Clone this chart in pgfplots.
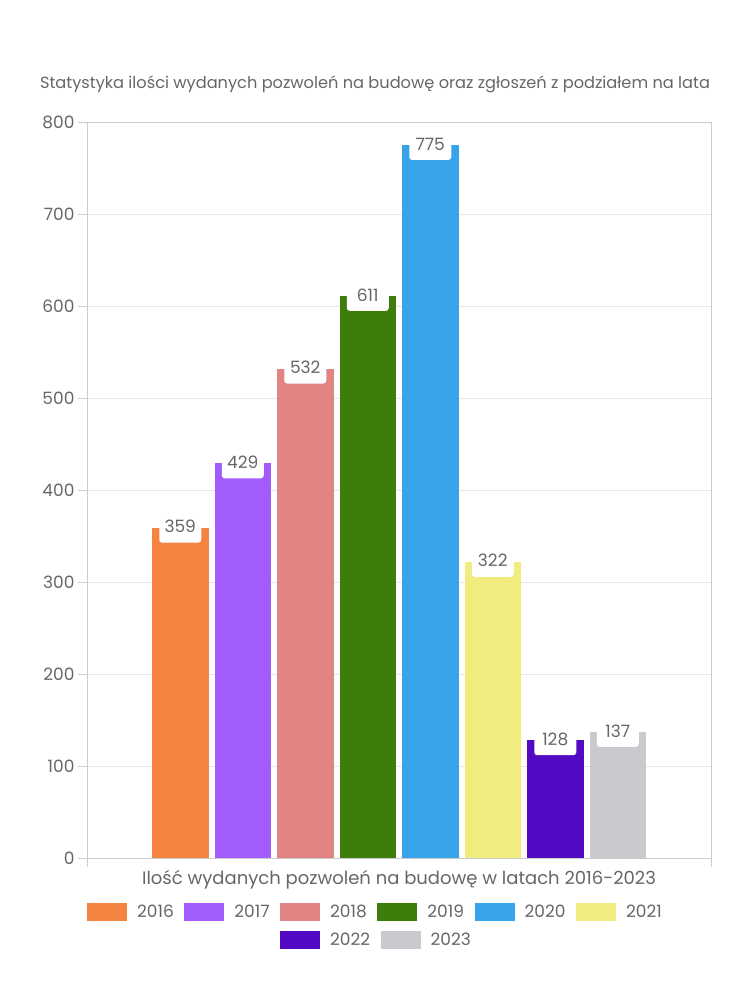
\documentclass[border=0pt]{standalone}
\usepackage{fontspec}
\setmainfont{Poppins}
\usepackage{pgfplots}
\pgfplotsset{compat=1.18}
\definecolor{c2016}{HTML}{F4843F}
\definecolor{c2017}{HTML}{A25BFD}
\definecolor{c2018}{HTML}{E08484}
\definecolor{c2019}{HTML}{3C7D0C}
\definecolor{c2020}{HTML}{37A3EB}
\definecolor{c2021}{HTML}{F0EC7D}
\definecolor{c2022}{HTML}{520BC2}
\definecolor{c2023}{HTML}{C9CACE}
\definecolor{txt}{HTML}{666666}
\definecolor{gridc}{HTML}{E6E6E6}
\definecolor{axc}{HTML}{CCCCCC}
\pgfplotsset{/pgfplots/ybar legend/.style={legend image code/.code={\fill[##1] (0pt,-9pt) rectangle (40pt,9pt);}}}
\begin{document}
\begin{tikzpicture}
\path[use as bounding box] (0pt,0pt) rectangle (750pt,1000pt);
\begin{axis}[
  at={(87pt,142pt)}, anchor=south west,
  scale only axis, width=624pt, height=736pt,
  xmin=-1, xmax=1, ymin=0, ymax=800,
  ybar=6pt, bar width=56.5pt,
  ytick={0,100,...,800},
  xtick={-1,1}, xticklabels={},
  ymajorgrids, grid style={gridc, line width=0.8pt},
  axis line style={axc, line width=0.8pt},
  tick align=outside, major tick length=9pt,
  tick style={axc, line width=0.8pt},
  ytick pos=left, xtick pos=bottom,
  /pgf/number format/assume math mode=true,
  yticklabel style={font=\fontsize{17}{20}\selectfont, text=txt},
  title={Statystyka ilości wydanych pozwoleń na budowę oraz zgłoszeń z podziałem na lata},
  title style={at={(axis description cs:0.5,1)}, anchor=center, yshift=32pt, xshift=-24pt, font=\fontsize{16.2}{19}\selectfont, text=txt},
  xlabel={Ilość wydanych pozwoleń na budowę w latach 2016-2023},
  xlabel style={at={(axis description cs:0.5,0)}, anchor=center, yshift=-22pt, font=\fontsize{18}{21}\selectfont, text=txt},
  nodes near coords,
  every node near coord/.append style={fill=white, rounded corners=3pt, text=txt, font=\fontsize{17}{20}\selectfont, anchor=center, minimum width=42pt, minimum height=32pt, inner sep=0pt, yshift=1pt},
  legend columns=6,
  legend style={at={(axis description cs:0.4607,-0.0734)}, anchor=center, draw=none, fill=none,
    font=\fontsize{17}{20}\selectfont, text=txt,
    nodes={inner sep=0pt},
    /tikz/every odd column/.append style={column sep=10pt},
    /tikz/every even column/.append style={column sep=10.6pt}},
]
\addplot[fill=c2016, draw=none] coordinates {(0,359)}; \addlegendentry{2016}
\addplot[fill=c2017, draw=none] coordinates {(0,429)}; \addlegendentry{2017}
\addplot[fill=c2018, draw=none] coordinates {(0,532)}; \addlegendentry{2018}
\addplot[fill=c2019, draw=none] coordinates {(0,611)}; \addlegendentry{2019}
\addplot[fill=c2020, draw=none] coordinates {(0,775)}; \addlegendentry{2020}
\addplot[fill=c2021, draw=none] coordinates {(0,322)}; \addlegendentry{2021}
\addplot[fill=c2022, draw=none] coordinates {(0,128)};
\addplot[fill=c2023, draw=none] coordinates {(0,137)};
\end{axis}
\begin{axis}[
  at={(87pt,142pt)}, anchor=south west,
  scale only axis, width=624pt, height=736pt,
  xmin=-1, xmax=1, ymin=0, ymax=800, hide axis,
  legend columns=2,
  legend image code/.code={\fill[#1] (0pt,-9pt) rectangle (40pt,9pt);},
  legend style={at={(axis description cs:0.4623,-0.1114)}, anchor=center, draw=none, fill=none,
    font=\fontsize{17}{20}\selectfont, text=txt,
    nodes={inner sep=0pt},
    /tikz/every odd column/.append style={column sep=10pt},
    /tikz/every even column/.append style={column sep=10.6pt}},
]
\addlegendimage{fill=c2022, draw=none}\addlegendentry{2022}
\addlegendimage{fill=c2023, draw=none}\addlegendentry{2023}
\end{axis}
\end{tikzpicture}
\end{document}
